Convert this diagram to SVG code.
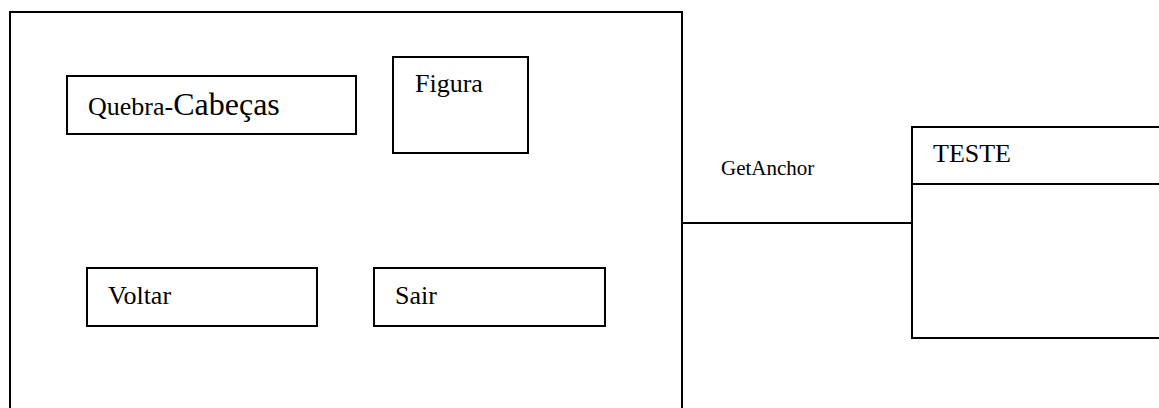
<svg xmlns="http://www.w3.org/2000/svg" width="1159" height="408" viewBox="0 0 1159 408">
<style>
.b{fill:#fff;stroke:#000;stroke-width:2}
.t{font-family:"Liberation Serif",serif;fill:#000;font-size:26px}
.s{font-size:21px}
.c{fill:none;stroke:#000;stroke-width:2}
</style>
<rect width="1159" height="408" fill="#fff"/>
<g id="janela"><rect class="b" x="10" y="12" width="672" height="420"/></g>
<g id="quebra"><rect class="b" x="67" y="76" width="289" height="58"/>
<text class="t" x="88" y="115"><tspan>Quebra-</tspan><tspan font-size="32">Cabeças</tspan></text></g>
<g id="figura"><rect class="b" x="393" y="57" width="135" height="96"/>
<text class="t" x="415" y="92">Figura</text></g>
<g id="voltar"><rect class="b" x="87" y="268" width="230" height="58"/>
<text class="t" x="108" y="304">Voltar</text></g>
<g id="sair"><rect class="b" x="374" y="268" width="231" height="58"/>
<text class="t" x="395" y="304">Sair</text></g>
<g id="teste"><rect class="b" x="912" y="127" width="260" height="211"/>
<line class="c" x1="912" y1="184" x2="1172" y2="184"/>
<text class="t" x="933" y="162">TESTE</text></g>
<g id="connectors"><line class="c" x1="682" y1="223" x2="912" y2="223"/>
<text class="t s" x="721" y="175">GetAnchor</text></g>
</svg>
